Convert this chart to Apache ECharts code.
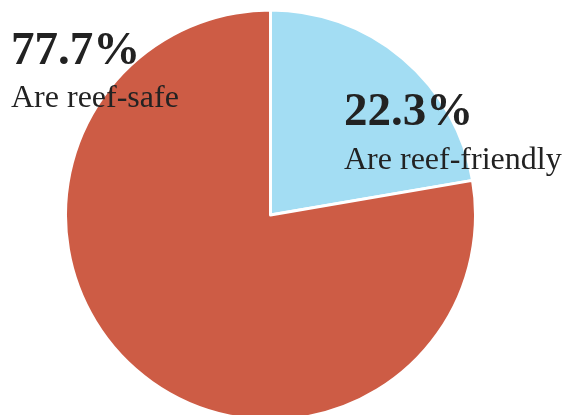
<!DOCTYPE html>
<html><head><meta charset="utf-8">
<script src="https://cdn.jsdelivr.net/npm/echarts@6/dist/echarts.min.js"></script>
<style>html,body{margin:0;padding:0;background:#fff}#c{width:565px;height:415px}</style>
</head><body><div id="c"></div>
<script>
const categories = ['Are reef-friendly', 'Are reef-safe'];
const values = [22.3, 77.7];
const colors = ['#A3DDF3', '#CD5C45'];

const chart = echarts.init(document.getElementById('c'), null, {renderer: 'canvas'});
const serif = '"Liberation Serif", "Times New Roman", serif';
function pct(v){ return v.toFixed(1) + '%'; }
chart.setOption({
  backgroundColor: '#ffffff',
  animation: false,
  series: [{
    type: 'pie',
    center: [270.5, 215],
    radius: 205,
    startAngle: 90,
    clockwise: true,
    z: 1,
    label: {show: false},
    labelLine: {show: false},
    itemStyle: {borderColor: '#ffffff', borderWidth: 3},
    data: categories.map((c, i) => ({name: c, value: values[i], itemStyle: {color: colors[i]}}))
  }],
  graphic: [
    {type: 'text', x: 11, y: 52, z: 100, style: {text: pct(values[1]), font: 'bold 47px ' + serif, fill: '#222', verticalAlign: 'middle'}},
    {type: 'text', x: 11, y: 99, z: 100, style: {text: categories[1], font: '32px ' + serif, fill: '#222', verticalAlign: 'middle'}},
    {type: 'text', x: 344, y: 113, z: 100, style: {text: pct(values[0]), font: 'bold 47px ' + serif, fill: '#222', verticalAlign: 'middle'}},
    {type: 'text', x: 344, y: 161, z: 100, style: {text: categories[0], font: '32px ' + serif, fill: '#222', verticalAlign: 'middle'}}
  ]
});
</script></body></html>
